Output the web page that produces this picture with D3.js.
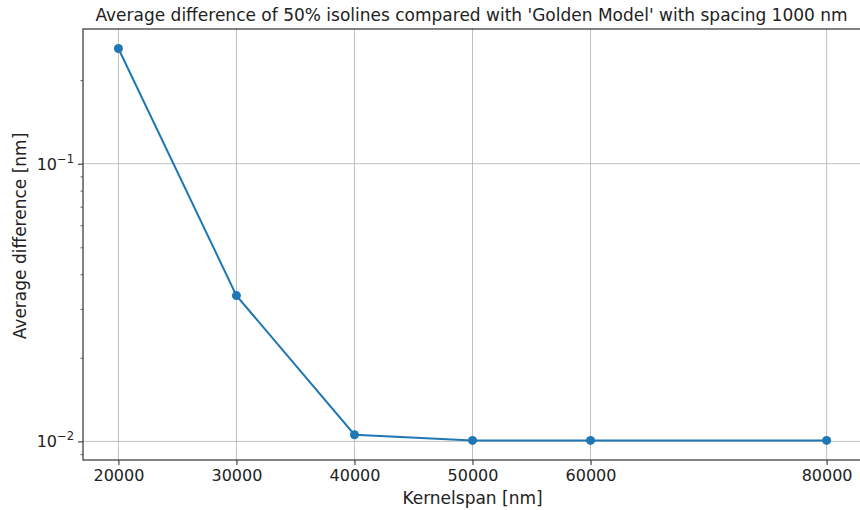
<!DOCTYPE html>
<html>
<head>
<meta charset="utf-8">
<script src="https://cdn.jsdelivr.net/npm/d3@7"></script>
<style>
body{margin:0;background:#fff;}
svg{font-family:"DejaVu Sans",sans-serif;}
</style>
</head>
<body>
<script>
// data
const kernelspan=[20000,30000,40000,50000,60000,80000];
const avgDiff=[0.26,0.0335,0.01057,0.01008,0.01008,0.01008];
const xTicks=[20000,30000,40000,50000,60000,80000];
const yMajor=[0.01,0.1];
const yMajorExp=["\u22122","\u22121"];
const yMinor=[0.009,0.02,0.03,0.04,0.05,0.06,0.07,0.08,0.09,0.2];

const w=860,h=510;
const padL=83,padR=862,padT=29,padB=460;

const svg=d3.select("body").append("svg").attr("width",w).attr("height",h);

//scales
const xScale=d3.scaleLinear().domain([17000,83000]).range([padL,padR]);
const yScale=d3.scaleLog().domain([Math.pow(10,-2.067),Math.pow(10,-0.515)]).range([padB,padT]);

//grid
svg.append("g").selectAll("line").data(xTicks).enter().append("line")
  .attr("x1",d=>xScale(d)).attr("x2",d=>xScale(d))
  .attr("y1",padT).attr("y2",padB)
  .attr("stroke","#b0b0b0").attr("stroke-width",0.8);
svg.append("g").selectAll("line").data(yMajor).enter().append("line")
  .attr("x1",padL).attr("x2",padR)
  .attr("y1",d=>yScale(d)).attr("y2",d=>yScale(d))
  .attr("stroke","#b0b0b0").attr("stroke-width",0.8);

//line + markers
const line=d3.line().x((d,i)=>xScale(kernelspan[i])).y(d=>yScale(d));
svg.append("path").datum(avgDiff)
  .attr("d",line).attr("fill","none")
  .attr("stroke","#1f77b4").attr("stroke-width",2);
svg.append("g").selectAll("circle").data(avgDiff).enter().append("circle")
  .attr("cx",(d,i)=>xScale(kernelspan[i])).attr("cy",d=>yScale(d))
  .attr("r",4.5).attr("fill","#1f77b4");

//axes
const xAxis=d3.axisBottom(xScale).tickValues(xTicks).tickFormat(d3.format("d")).tickSize(5).tickSizeOuter(0).tickPadding(5);
const gx=svg.append("g").attr("transform","translate(0,"+padB+")").call(xAxis);
gx.select(".domain").remove();
gx.selectAll("text").attr("font-size",16).attr("fill","#222").attr("font-family","DejaVu Sans");
gx.selectAll("line").attr("stroke","#222").attr("stroke-width",1);

const yAxis=d3.axisLeft(yScale).tickValues(yMajor).tickFormat("").tickSize(5).tickSizeOuter(0);
const gy=svg.append("g").attr("transform","translate("+padL+",0)").call(yAxis);
gy.select(".domain").remove();
gy.selectAll("line").attr("stroke","#222").attr("stroke-width",1);

const yMinorAxis=d3.axisLeft(yScale).tickValues(yMinor).tickFormat("").tickSize(2.5).tickSizeOuter(0);
const gym=svg.append("g").attr("transform","translate("+padL+",0)").call(yMinorAxis);
gym.select(".domain").remove();
gym.selectAll("line").attr("stroke","#222").attr("stroke-width",0.7);

//y tick labels with superscripts
const lbl=svg.append("g").selectAll("text").data(yMajor).enter().append("text")
  .attr("x",padL-9).attr("y",d=>yScale(d)+6)
  .attr("text-anchor","end").attr("fill","#222").attr("font-size",16);
lbl.append("tspan").text("10");
lbl.append("tspan").attr("dy",-7).attr("font-size",11.5).text((d,i)=>yMajorExp[i]);

//frame
svg.append("rect").attr("x",padL).attr("y",padT)
  .attr("width",padR-padL).attr("height",padB-padT)
  .attr("fill","none").attr("stroke","#333").attr("stroke-width",1.2);

//labels
svg.append("text").attr("x",(padL+padR)/2-1).attr("y",21)
  .attr("text-anchor","middle").attr("font-size",17).attr("fill","#222")
  .text("Average difference of 50% isolines compared with 'Golden Model' with spacing 1000 nm");
svg.append("text").attr("x",(padL+padR)/2).attr("y",504)
  .attr("text-anchor","middle").attr("font-size",17).attr("fill","#222")
  .text("Kernelspan [nm]");
svg.append("text").attr("transform","translate(26,236) rotate(-90)")
  .attr("text-anchor","middle").attr("font-size",17).attr("fill","#222")
  .text("Average difference [nm]");
</script>
</body>
</html>
